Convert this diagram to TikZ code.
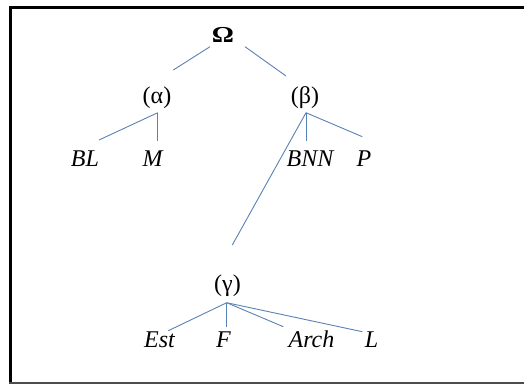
\documentclass[tikz,border=0pt]{standalone}
\usepackage{fontspec}
\setmainfont{Liberation Serif}
\begin{document}
\begin{tikzpicture}[x=1pt,y=-1pt,
  leaf/.style={anchor=base,inner sep=0pt,font=\fontsize{24}{28}\selectfont\itshape},
  inner/.style={anchor=center,inner sep=0pt,font=\fontsize{24}{28}\selectfont},
  rootlabel/.style={anchor=center,inner sep=0pt,font=\fontsize{24}{28}\selectfont\bfseries},
  branch/.style={draw=edgeblue,line width=0.9pt}]
\definecolor{edgeblue}{HTML}{5B82B5}
\useasboundingbox (0,0) rectangle (524,384);
\fill[white] (0,0) rectangle (524,384);
% frame: open on the right
\draw[line width=3pt,black] (524,7.5) -- (10.5,7.5) -- (10.5,382);
\draw[line width=2pt,black!70] (9,383) -- (524,383);

% labels
\node[rootlabel] (om) at (223,34.5) {\scalebox{1.15}[0.95]{Ω}};
\node[inner] (al) at (157,98) {(α)};
\node[inner] (be) at (305,98) {(β)};
\node[inner] (ga) at (227.5,286) {(γ)};
\node[leaf] (bl) at (85,166.5) {BL};
\node[leaf] (m) at (152.5,166.5) {M};
\node[leaf] (bnn) at (310,166.5) {BNN};
\node[leaf] (p) at (364,166.5) {P};
\node[leaf] (est) at (159.5,347.3) {Est};
\node[leaf] (f) at (223.5,347.3) {F};
\node[leaf] (arch) at (311.5,347.3) {Arch};
\node[leaf] (l) at (371.5,347.3) {L};

% branch end points
\coordinate (om-l) at (210,46.7);
\coordinate (om-r) at (245,46.7);
\coordinate (al-up) at (173.3,70);
\coordinate (be-up) at (286,76);
\coordinate (al-dn) at (157.7,112.7);
\coordinate (be-dn) at (306,112.7);
\coordinate (bl-up) at (99,140);
\coordinate (m-up) at (157.7,140.7);
\coordinate (bnn-up) at (306,140.7);
\coordinate (p-up) at (362.3,136.7);
\coordinate (ga-up) at (232.3,245);
\coordinate (ga-dn) at (226.7,302.7);
\coordinate (est-up) at (168.3,330.7);
\coordinate (f-up) at (226.7,326.7);
\coordinate (arch-up) at (283.3,326.7);
\coordinate (l-up) at (362.3,331.7);

% branches
\draw[branch] (om-l) -- (al-up);
\draw[branch] (om-r) -- (be-up);
\draw[branch] (al-dn) -- (bl-up);
\draw[branch] (al-dn) -- (m-up);
\draw[branch] (be-dn) -- (bnn-up);
\draw[branch] (be-dn) -- (p-up);
\draw[branch] (be-dn) -- (ga-up);
\draw[branch] (ga-dn) -- (est-up);
\draw[branch] (ga-dn) -- (f-up);
\draw[branch] (ga-dn) -- (arch-up);
\draw[branch] (ga-dn) -- (l-up);
\end{tikzpicture}
\end{document}
